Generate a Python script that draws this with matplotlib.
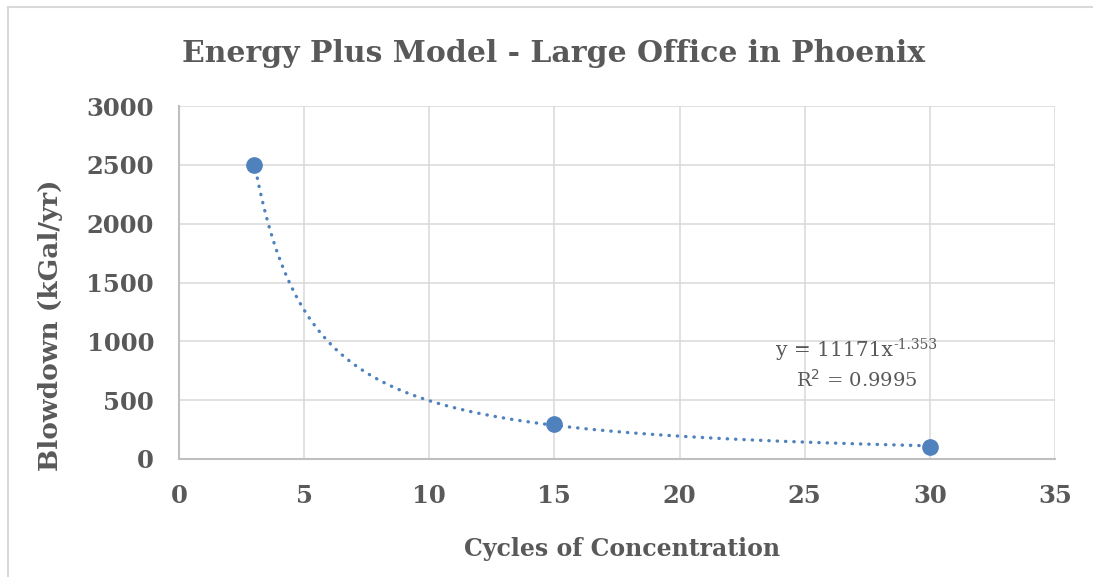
import numpy as np
import matplotlib
matplotlib.use("Agg")
import matplotlib.pyplot as plt
from matplotlib.lines import Line2D

# Data
cycles = [3, 15, 30]
blowdown = [2500, 295, 105]
coef_a = 11171
coef_b = -1.353
r_squared = 0.9995
title = "Energy Plus Model - Large Office in Phoenix"
xlabel = "Cycles of Concentration"
ylabel = "Blowdown (kGal/yr)"
xticks = [0, 5, 10, 15, 20, 25, 30, 35]
yticks = [0, 500, 1000, 1500, 2000, 2500, 3000]

W, H = 1093, 577
fig = plt.figure(figsize=(W / 100, H / 100), dpi=100)
plt.rcParams['font.family'] = ['DejaVu Serif']
txt = '#595959'
grid = '#d9d9d9'
blue = '#4F81BD'

# outer chart border (top and left visible)
fig.lines.append(Line2D([8 / W, 1.01], [(H - 7) / H] * 2, transform=fig.transFigure,
                        color='#d9d9d9', linewidth=1.5))
fig.lines.append(Line2D([8 / W] * 2, [-0.01, (H - 7) / H], transform=fig.transFigure,
                        color='#d9d9d9', linewidth=1.5))

ax = fig.add_axes([179 / W, (H - 459) / H, (1055 - 179) / W, (459 - 106) / H])
ax.set_xlim(0, 35)
ax.set_ylim(0, 3000)
ax.set_xticks(xticks)
ax.set_yticks(yticks)
ax.grid(True, color=grid, linewidth=1.1)
ax.set_axisbelow(True)
for s in ['top', 'right']:
    ax.spines[s].set_visible(False)
for s in ['left', 'bottom']:
    ax.spines[s].set_color('#bfbfbf')
    ax.spines[s].set_linewidth(1.5)
ax.tick_params(length=0, pad=18, labelsize=17.5, labelcolor=txt)
for lab in ax.get_xticklabels() + ax.get_yticklabels():
    lab.set_fontweight('bold')

# trendline (power fit shown on the chart)
xt = np.linspace(cycles[0], cycles[-1], 300)
yt = coef_a * xt ** coef_b
ax.plot(xt, yt, color=blue, linewidth=2.4, linestyle=(0, (0.1, 2.4)),
        dash_capstyle='round', zorder=3)
ax.plot(cycles, blowdown, 'o', color=blue, markersize=11, zorder=4, clip_on=False)

# trendline label
eq_x = 857 / W
fig.text(eq_x + 36 / W, (H - 351) / H, f"y = {coef_a}x", ha='right', va='center',
         fontsize=14.5, color=txt)
fig.text(eq_x + 36 / W, (H - 345) / H, f"{coef_b}", ha='left', va='center',
         fontsize=10, color=txt)
fig.text(eq_x, (H - 380) / H, f"R$^{{2}}$ = {r_squared}", ha='center', va='center',
         fontsize=14, color=txt)

fig.text(554 / W, (H - 53) / H, title, ha='center', va='center', fontsize=21.5,
         fontweight='bold', color=txt)
fig.text(622 / W, (H - 549) / H, xlabel, ha='center', va='center', fontsize=17,
         fontweight='bold', color=txt)
fig.text(51 / W, (H - 325) / H, ylabel, ha='center', va='center', fontsize=19,
         fontweight='bold', color=txt, rotation=90)

fig.savefig("out.png", dpi=100)
